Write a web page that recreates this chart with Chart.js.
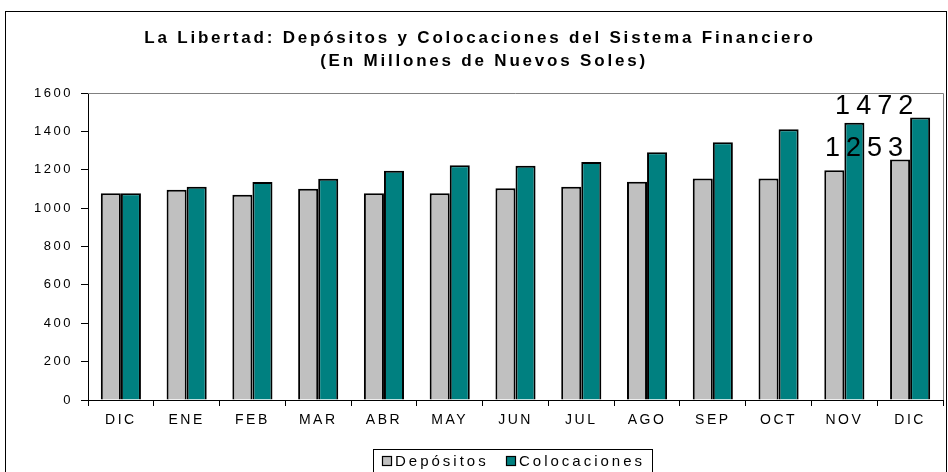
<!DOCTYPE html>
<html>
<head>
<meta charset="utf-8">
<script src="https://cdn.jsdelivr.net/npm/chart.js@4/dist/chart.umd.min.js"></script>
<style>
html,body{margin:0;padding:0;background:#fff;}
canvas{display:block;}
</style>
</head>
<body>
<canvas id="c" width="948" height="472"></canvas>
<script>
const categories = ['DIC','ENE','FEB','MAR','ABR','MAY','JUN','JUL','AGO','SEP','OCT','NOV','DIC'];
const depositos = [1077, 1096, 1070, 1101, 1077, 1077, 1103, 1112, 1138, 1155, 1155, 1197, 1253];
const colocaciones = [1077, 1112, 1136, 1153, 1195, 1223, 1221, 1240, 1291, 1343, 1411, 1445, 1472];
const seriesNames = ['Depósitos', 'Colocaciones'];
const titleLines = ['La Libertad: Depósitos y Colocaciones del Sistema Financiero', '(En Millones de Nuevos Soles)'];
const yTicks = [0, 200, 400, 600, 800, 1000, 1200, 1400, 1600];

const FONT = 'Arial, "Liberation Sans", sans-serif';
const GRAY = '#C0C0C0', TEAL = '#008080';

const spacingPlugin = {
  id: 'spacing',
  beforeUpdate(c) { c.ctx.letterSpacing = '2.5px'; },
  beforeDraw(c) {
    const ctx = c.ctx;
    ctx.letterSpacing = '2.5px';
    ctx.save();
    ctx.fillStyle = '#fff';
    ctx.fillRect(0, 0, c.width, c.height);
    ctx.strokeStyle = '#000';
    ctx.lineWidth = 1;
    ctx.strokeRect(5.5, 11.5, 941, 480);
    ctx.fillStyle = '#000';
    ctx.font = 'bold 17px ' + FONT;
    ctx.letterSpacing = '2.8px';
    ctx.textAlign = 'center';
    ctx.textBaseline = 'middle';
    ctx.fillText(titleLines[0], 480, 38);
    ctx.fillText(titleLines[1], 484, 61);
    ctx.restore();
    ctx.letterSpacing = '2.5px';
  },
  afterDraw(c) {
    const ctx = c.ctx;
    const a = c.chartArea;
    ctx.save();
    ctx.strokeStyle = '#808080';
    ctx.lineWidth = 1;
    ctx.beginPath();
    ctx.moveTo(a.left, Math.round(a.top) + 0.5);
    ctx.lineTo(Math.round(a.right) + 0.5, Math.round(a.top) + 0.5);
    ctx.lineTo(Math.round(a.right) + 0.5, a.bottom);
    ctx.stroke();
    const last = categories.length - 1;
    const offs = [-36, -46];
    ctx.fillStyle = '#000';
    ctx.font = '27px ' + FONT;
    ctx.letterSpacing = '6px';
    ctx.textAlign = 'center';
    ctx.textBaseline = 'bottom';
    [1, 0].forEach(i => {
      const el = c.getDatasetMeta(i).data[last];
      const v = c.data.datasets[i].data[last];
      ctx.fillText(String(v), el.x + offs[i] + 3, el.y + 2);
    });
    ctx.letterSpacing = '3px';
    ctx.strokeStyle = '#000';
    ctx.lineWidth = 1;
    ctx.strokeRect(373.5, 449.5, 279, 40);
    ctx.font = '15px ' + FONT;
    ctx.textAlign = 'left';
    ctx.textBaseline = 'middle';
    const items = [{x: 382, color: GRAY}, {x: 506, color: TEAL}];
    items.forEach((it, i) => {
      ctx.fillStyle = it.color;
      ctx.fillRect(it.x + 0.5, 456.5, 9, 9);
      ctx.strokeStyle = '#000';
      ctx.lineWidth = 1.2;
      ctx.strokeRect(it.x + 0.5, 456.5, 9, 9);
      ctx.fillStyle = '#000';
      ctx.fillText(seriesNames[i], it.x + 13, 462);
    });
    ctx.restore();
  }
};

new Chart(document.getElementById('c'), {
  type: 'bar',
  data: {
    labels: categories,
    datasets: [
      { label: seriesNames[0], data: depositos, backgroundColor: GRAY, borderColor: '#000', borderWidth: 2, categoryPercentage: 0.61, barPercentage: 1 },
      { label: seriesNames[1], data: colocaciones, backgroundColor: TEAL, borderColor: '#000', borderWidth: 2, categoryPercentage: 0.61, barPercentage: 1 }
    ]
  },
  options: {
    responsive: false,
    animation: false,
    devicePixelRatio: 1,
    layout: { padding: { left: 0, right: 5, top: 93, bottom: 0 } },
    plugins: { legend: { display: false }, title: { display: false }, tooltip: { enabled: false } },
    scales: {
      x: {
        grid: { display: true, offset: true, drawOnChartArea: false, drawTicks: true, tickLength: 6, color: '#000', lineWidth: 1 },
        border: { display: true, color: '#000', width: 1 },
        ticks: { color: '#000', font: { family: FONT, size: 14 }, padding: 6, maxRotation: 0, autoSkip: false },
        afterFit(s) { s.height = 72; }
      },
      y: {
        min: 0, max: 1600,
        afterBuildTicks(s) { s.ticks = yTicks.map(v => ({ value: v })); },
        grid: { display: true, drawOnChartArea: false, drawTicks: true, tickLength: 7, color: '#000', lineWidth: 1 },
        border: { display: true, color: '#000', width: 1 },
        ticks: { color: '#000', font: { family: FONT, size: 13 }, padding: 8, callback: v => String(v) },
        afterFit(s) { s.width = 88; }
      }
    }
  },
  plugins: [spacingPlugin]
});
</script>
</body>
</html>
